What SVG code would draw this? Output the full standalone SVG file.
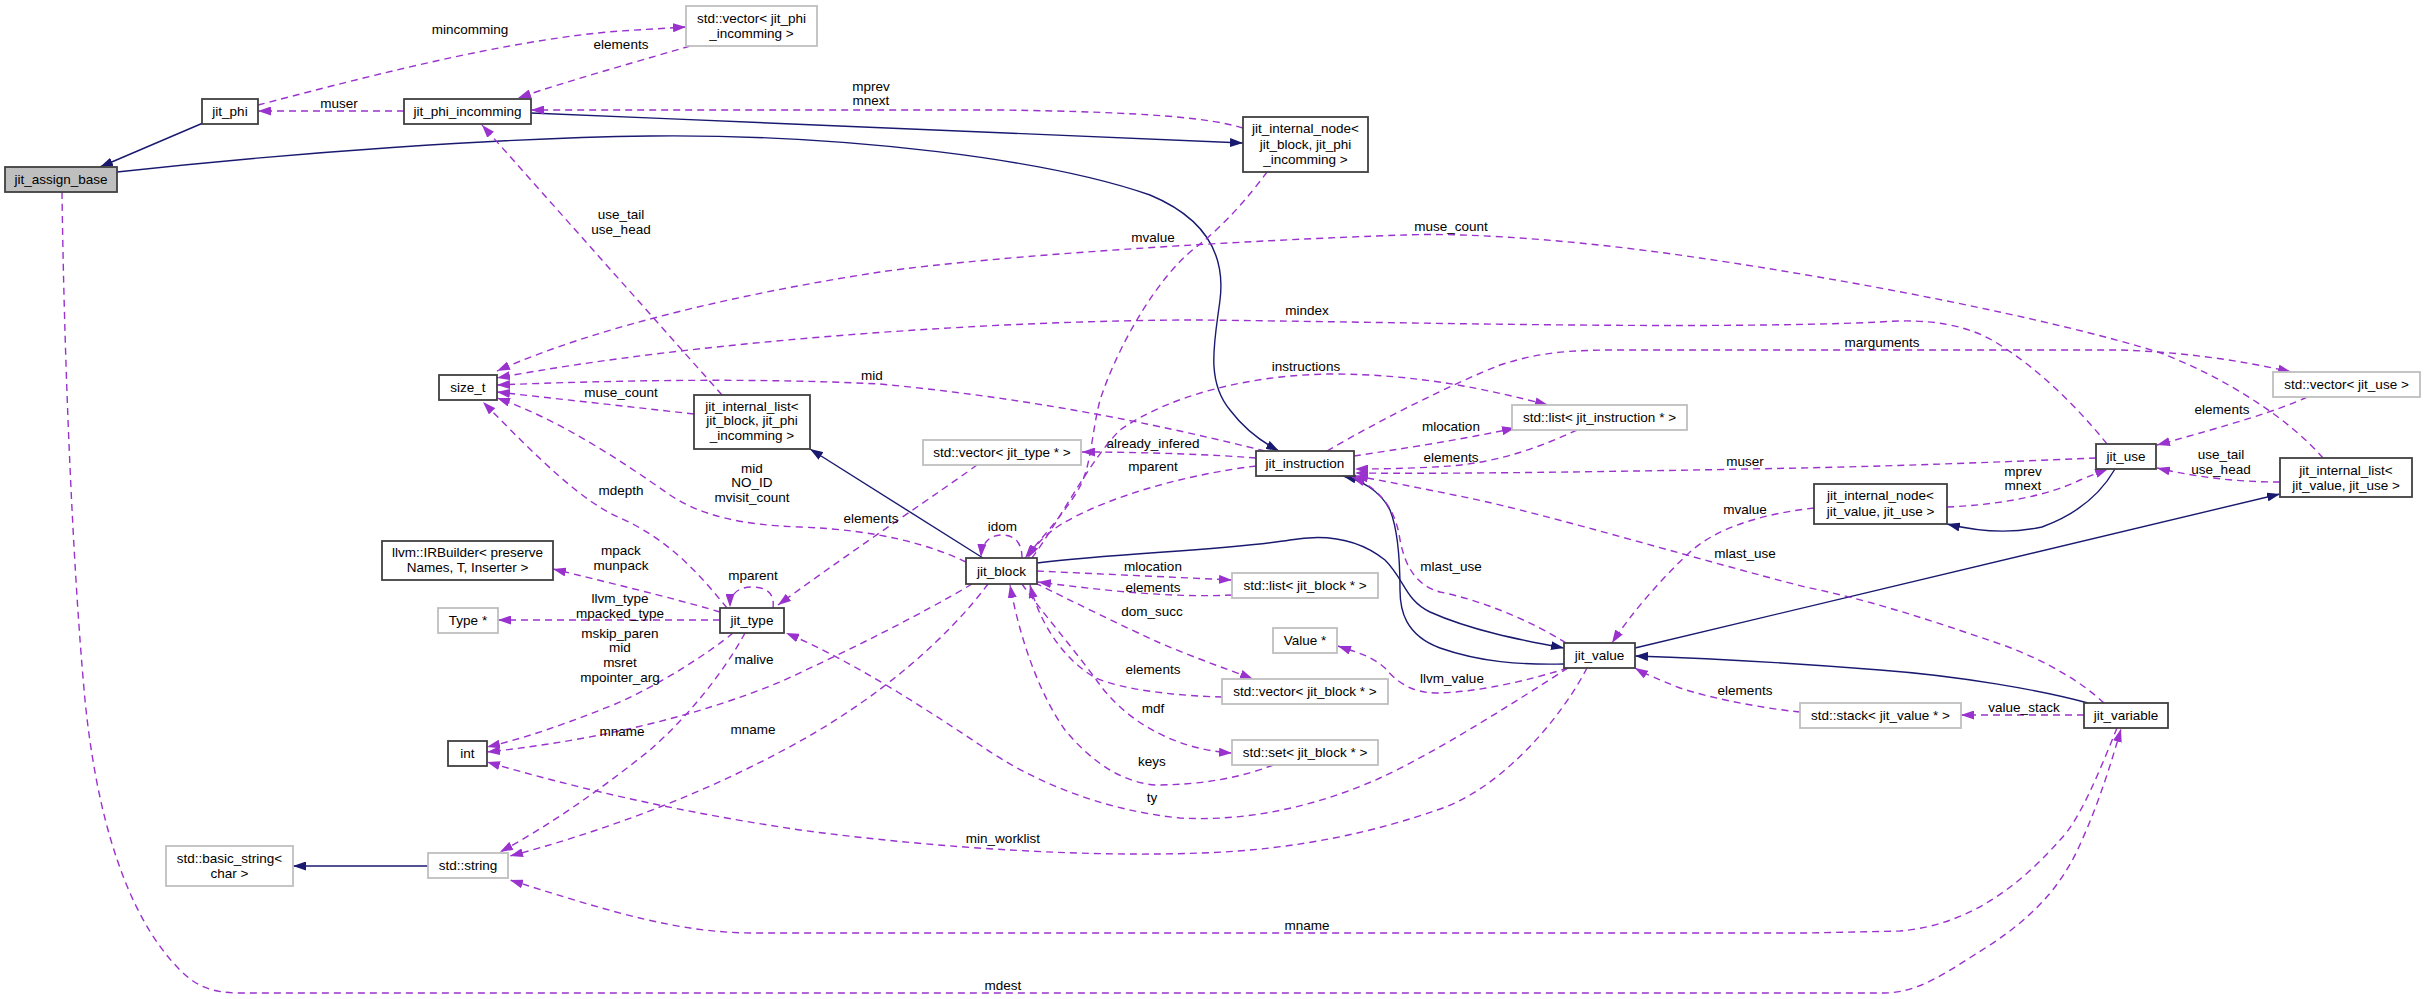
<svg xmlns="http://www.w3.org/2000/svg" width="2425" height="999" viewBox="0 0 2425 999">
<style>
text{font-family:"Liberation Sans",Arial,sans-serif;font-size:13.5px;fill:#000;text-anchor:middle}
.n{fill:#fff;stroke:#404040;stroke-width:1.8}
.g{fill:#fff;stroke:#bfbfbf;stroke-width:1.8}
.d{fill:none;stroke:#9a32cd;stroke-width:1.4;stroke-dasharray:7,5;marker-end:url(#ap)}
.s{fill:none;stroke:#191970;stroke-width:1.4;marker-end:url(#ab)}
</style>
<defs>
<marker id="ap" viewBox="0 0 13 9" refX="13" refY="4.5" markerWidth="13" markerHeight="9" markerUnits="userSpaceOnUse" orient="auto"><path d="M0,0L13,4.5L0,9z" fill="#9a32cd"/></marker>
<marker id="ab" viewBox="0 0 13 9" refX="13" refY="4.5" markerWidth="13" markerHeight="9" markerUnits="userSpaceOnUse" orient="auto"><path d="M0,0L13,4.5L0,9z" fill="#191970"/></marker>
</defs>
<rect width="2425" height="999" fill="#fff"/>
<g id="edges">
<path class="s" d="M203,123 L100,167"/>
<path class="s" d="M117,172 C300,152 500,138 650,136 C850,134 1050,160 1150,195 C1210,220 1225,260 1220,300 C1215,340 1205,380 1230,410 C1245,430 1262,442 1279,451"/>
<path class="s" d="M531,113 C800,124 1100,138 1243,143"/>
<path class="s" d="M983,558 L810,449"/>
<path class="s" d="M1037,563 C1120,553 1230,550 1290,540 C1330,533 1360,540 1385,560 C1405,580 1405,600 1430,612 C1470,630 1520,640 1564,648"/>
<path class="s" d="M1564,664 C1520,665 1480,662 1440,648 C1405,635 1400,610 1400,590 C1400,560 1398,530 1390,510 C1380,490 1360,480 1343,476"/>
<path class="s" d="M1635,648 L2280,494"/>
<path class="s" d="M2088,703 C2040,690 1960,676 1880,670 C1780,662 1700,658 1635,656"/>
<path class="s" d="M2115,469 C2100,495 2075,515 2042,527 C2010,534 1980,532 1947,524"/>
<path class="s" d="M428,866 L293,866"/>

<path class="d" d="M404,111 L258,111"/>
<path class="d" d="M258,105 C340,84 500,40 620,31 L686,27"/>
<path class="d" d="M690,46 C650,58 570,80 518,98"/>
<path class="d" d="M1243,128 C1210,118 1150,112 1000,110 L531,110"/>
<path class="d" d="M722,395 L482,125"/>
<path class="d" d="M2323,458 C2290,420 2230,380 2161,353 C2050,318 1850,280 1700,258 C1600,243 1480,232 1405,235 C1250,240 1000,255 880,272 C750,292 600,325 497,371"/>
<path class="d" d="M2107,444 C2080,410 2040,370 2000,345 C1970,325 1930,318 1880,322 C1700,330 1400,322 1200,320 C1000,320 700,340 497,378"/>
<path class="d" d="M1265,451 C1180,430 1050,400 880,384 C760,378 620,380 497,385"/>
<path class="d" d="M694,414 L497,392"/>
<path class="d" d="M966,562 C930,545 880,530 800,527 C740,525 700,515 670,495 C620,460 560,420 497,398"/>
<path class="d" d="M727,608 C700,575 670,540 620,518 C580,500 540,460 483,402"/>
<path class="d" d="M1327,451 C1380,420 1450,385 1500,365 C1540,352 1570,350 1620,350 L2121,350 C2180,352 2240,360 2291,372"/>
<path class="d" d="M1032,558 C1060,520 1090,460 1120,430 C1170,395 1250,375 1330,374 C1420,374 1490,390 1548,405"/>
<path class="d" d="M1256,458 C1220,455 1150,452 1082,452"/>
<path class="d" d="M977,465 C940,492 860,545 778,605"/>
<path class="d" d="M773,608 C775,592 765,587 752,587 C738,587 730,594 730,607"/>
<path class="d" d="M720,612 C690,603 640,590 553,569"/>
<path class="d" d="M720,620 L498,620"/>
<path class="d" d="M733,633 C710,652 660,685 613,705 C570,722 530,737 487,747"/>
<path class="d" d="M972,584 C920,615 850,650 780,682 C700,715 600,740 487,752"/>
<path class="d" d="M745,633 C725,670 690,715 650,750 C600,790 550,825 500,852"/>
<path class="d" d="M988,584 C950,635 880,700 780,752 C690,800 590,835 510,856"/>
<path class="d" d="M1587,668 C1560,720 1500,790 1437,810 C1380,830 1300,850 1200,853 C1100,857 950,850 800,830 C700,815 600,795 487,762"/>
<path class="d" d="M1568,668 C1510,705 1440,750 1380,778 C1320,805 1250,822 1180,818 C1100,810 1030,780 980,745 C920,705 850,660 786,633"/>
<path class="d" d="M1568,668 C1530,680 1480,692 1437,693 C1410,693 1395,680 1385,668 C1370,655 1355,652 1338,646"/>
<path class="d" d="M1566,643 C1530,620 1480,600 1440,592 C1415,585 1405,565 1400,540 C1396,510 1380,488 1352,477"/>
<path class="d" d="M2096,458 C2000,462 1900,466 1800,468 C1600,472 1450,474 1355,473"/>
<path class="d" d="M1577,430 C1540,447 1500,462 1450,466 C1420,468 1390,469 1355,469"/>
<path class="d" d="M1354,456 C1400,449 1460,440 1515,428"/>
<path class="d" d="M2104,703 C2085,685 2050,662 2003,645 C1930,620 1870,600 1805,587 C1700,560 1550,515 1469,498 C1420,488 1380,480 1355,476"/>
<path class="d" d="M1814,508 C1770,513 1720,525 1690,552 C1660,580 1630,615 1612,643"/>
<path class="d" d="M1947,507 C2000,505 2050,495 2080,480 C2090,476 2100,472 2108,469"/>
<path class="d" d="M2307,397 C2280,410 2230,425 2157,445"/>
<path class="d" d="M2280,482 C2240,482 2200,478 2157,468"/>
<path class="d" d="M1800,712 C1760,708 1710,698 1680,688 C1660,680 1645,674 1635,668"/>
<path class="d" d="M2084,715 L1961,715"/>
<path class="d" d="M2117,728 C2100,770 2080,820 2060,840 C2020,885 1970,925 1900,931 L1805,933 L750,933 C680,932 620,915 510,880"/>
<path class="d" d="M62,192 C64,350 72,560 85,700 C100,850 140,930 180,970 C195,985 210,993 240,993 L1884,993 C1920,993 1950,970 1990,945 C2040,912 2065,880 2082,840 C2100,800 2112,760 2121,729"/>
<path class="d" d="M1037,571 C1100,574 1170,577 1232,580"/>
<path class="d" d="M1232,595 C1170,598 1100,590 1038,582"/>
<path class="d" d="M1035,583 C1070,600 1120,625 1160,643 C1200,660 1230,670 1253,679"/>
<path class="d" d="M1222,697 C1180,696 1120,690 1094,677 C1065,660 1040,625 1030,585"/>
<path class="d" d="M1022,584 C1040,610 1075,650 1100,685 C1130,725 1180,750 1232,753"/>
<path class="d" d="M1273,765 C1240,778 1200,785 1155,785 C1120,782 1090,760 1065,730 C1040,695 1020,640 1010,585"/>
<path class="d" d="M1267,172 C1250,195 1225,225 1195,248 C1160,275 1120,340 1100,400 C1090,440 1092,470 1075,495 C1060,518 1040,540 1025,558"/>
<path class="d" d="M1256,466 C1190,474 1110,495 1060,525 C1045,535 1035,545 1028,558"/>
<path class="d" d="M1022,558 C1022,540 1012,535 1002,535 C990,535 982,542 981,557"/>

<text x="339" y="107.5">muser</text>
<text x="470" y="33.5">mincomming</text>
<text x="621" y="48.5">elements</text>
<text x="871" y="90.5">mprev</text><text x="871" y="104.5">mnext</text>
<text x="621" y="218.5">use_tail</text><text x="621" y="233.5">use_head</text>
<text x="1153" y="241.5">mvalue</text>
<text x="1451" y="230.5">muse_count</text>
<text x="1307" y="314.5">mindex</text>
<text x="1882" y="346.5">marguments</text>
<text x="872" y="379.5">mid</text>
<text x="1306" y="370.5">instructions</text>
<text x="621" y="396.5">muse_count</text>
<text x="1451" y="430.5">mlocation</text>
<text x="1153" y="447.5">already_infered</text>
<text x="2222" y="413.5">elements</text>
<text x="1451" y="461.5">elements</text>
<text x="1745" y="465.5">muser</text>
<text x="2221" y="458.5">use_tail</text><text x="2221" y="473.5">use_head</text>
<text x="1153" y="470.5">mparent</text>
<text x="752" y="472.5">mid</text><text x="752" y="486.5">NO_ID</text><text x="752" y="501.5">mvisit_count</text>
<text x="2023" y="475.5">mprev</text><text x="2023" y="489.5">mnext</text>
<text x="621" y="494.5">mdepth</text>
<text x="1745" y="513.5">mvalue</text>
<text x="871" y="522.5">elements</text>
<text x="1002.5" y="530.5">idom</text>
<text x="621" y="554.5">mpack</text><text x="621" y="569.5">munpack</text>
<text x="1745" y="557.5">mlast_use</text>
<text x="1153" y="570.5">mlocation</text>
<text x="1451" y="570.5">mlast_use</text>
<text x="753" y="579.5">mparent</text>
<text x="1153" y="591.5">elements</text>
<text x="620" y="602.5">llvm_type</text><text x="620" y="617.5">mpacked_type</text>
<text x="1152" y="615.5">dom_succ</text>
<text x="620" y="637.5">mskip_paren</text><text x="620" y="651.5">mid</text><text x="620" y="666.5">msret</text><text x="620" y="681.5">mpointer_arg</text>
<text x="754" y="663.5">malive</text>
<text x="1153" y="673.5">elements</text>
<text x="1452" y="682.5">llvm_value</text>
<text x="1745" y="694.5">elements</text>
<text x="2024" y="711.5">value_stack</text>
<text x="1153" y="712.5">mdf</text>
<text x="622" y="735.5">mname</text>
<text x="753" y="733.5">mname</text>
<text x="1152" y="765.5">keys</text>
<text x="1152" y="801.5">ty</text>
<text x="1003" y="842.5">min_worklist</text>
<text x="1307" y="929.5">mname</text>
<text x="1003" y="989.5">mdest</text>
</g>

<g id="jit_assign_base"><rect x="5" y="167" width="112" height="25" fill="#bfbfbf" stroke="#404040" stroke-width="1.8"/><text x="61" y="184">jit_assign_base</text></g>
<g id="jit_phi"><rect class="n" x="202" y="99" width="56" height="25"/><text x="230" y="116">jit_phi</text></g>
<g id="jit_phi_incomming"><rect class="n" x="404" y="99" width="127" height="25"/><text x="467.5" y="116">jit_phi_incomming</text></g>
<g id="vec_phi"><rect class="g" x="686" y="6" width="131" height="40"/><text x="751.5" y="22.5">std::vector&lt; jit_phi</text><text x="751.5" y="37.5">_incomming &gt;</text></g>
<g id="node_block_phi"><rect class="n" x="1243" y="117" width="125" height="55"/><text x="1305.5" y="132.5">jit_internal_node&lt;</text><text x="1305.5" y="148.5">jit_block, jit_phi</text><text x="1305.5" y="163.5">_incomming &gt;</text></g>
<g id="size_t"><rect class="n" x="439" y="375" width="58" height="25"/><text x="468" y="392">size_t</text></g>
<g id="list_block_phi"><rect class="n" x="694" y="395" width="116" height="54"/><text x="752" y="411">jit_internal_list&lt;</text><text x="752" y="425">jit_block, jit_phi</text><text x="752" y="440">_incomming &gt;</text></g>
<g id="vec_type"><rect class="g" x="923" y="440" width="158" height="25"/><text x="1002" y="457">std::vector&lt; jit_type * &gt;</text></g>
<g id="jit_instruction"><rect class="n" x="1256" y="451" width="98" height="25"/><text x="1305" y="468">jit_instruction</text></g>
<g id="list_instr"><rect class="g" x="1512" y="405" width="175" height="25"/><text x="1599.5" y="422">std::list&lt; jit_instruction * &gt;</text></g>
<g id="vec_use"><rect class="g" x="2273" y="372" width="147" height="25"/><text x="2346.5" y="389">std::vector&lt; jit_use &gt;</text></g>
<g id="jit_use"><rect class="n" x="2096" y="444" width="60" height="25"/><text x="2126" y="461">jit_use</text></g>
<g id="list_value_use"><rect class="n" x="2280" y="458" width="132" height="39"/><text x="2346" y="474.5">jit_internal_list&lt;</text><text x="2346" y="489.5">jit_value, jit_use &gt;</text></g>
<g id="node_value_use"><rect class="n" x="1814" y="484" width="133" height="40"/><text x="1880.5" y="499.5">jit_internal_node&lt;</text><text x="1880.5" y="515.5">jit_value, jit_use &gt;</text></g>
<g id="irbuilder"><rect class="n" x="382" y="541" width="171" height="39"/><text x="467.5" y="556.5">llvm::IRBuilder&lt; preserve</text><text x="467.5" y="571.5">Names, T, Inserter &gt;</text></g>
<g id="type_ptr"><rect class="g" x="438" y="608" width="60" height="25"/><text x="468" y="625">Type *</text></g>
<g id="jit_type"><rect class="n" x="720" y="608" width="64" height="25"/><text x="752" y="625">jit_type</text></g>
<g id="jit_block"><rect class="n" x="966" y="558" width="71" height="26"/><text x="1001.5" y="575.5">jit_block</text></g>
<g id="list_block"><rect class="g" x="1232" y="573" width="146" height="25"/><text x="1305" y="590">std::list&lt; jit_block * &gt;</text></g>
<g id="value_ptr"><rect class="g" x="1273" y="628" width="64" height="25"/><text x="1305" y="645">Value *</text></g>
<g id="jit_value"><rect class="n" x="1564" y="643" width="71" height="25"/><text x="1599.5" y="660">jit_value</text></g>
<g id="vec_block"><rect class="g" x="1222" y="679" width="166" height="25"/><text x="1305" y="696">std::vector&lt; jit_block * &gt;</text></g>
<g id="stack_value"><rect class="g" x="1800" y="703" width="161" height="25"/><text x="1880.5" y="720">std::stack&lt; jit_value * &gt;</text></g>
<g id="jit_variable"><rect class="n" x="2084" y="703" width="84" height="25"/><text x="2126" y="720">jit_variable</text></g>
<g id="int"><rect class="n" x="448" y="741" width="39" height="25"/><text x="467.5" y="758">int</text></g>
<g id="set_block"><rect class="g" x="1232" y="740" width="146" height="25"/><text x="1305" y="757">std::set&lt; jit_block * &gt;</text></g>
<g id="basic_string"><rect class="g" x="166" y="846" width="127" height="40"/><text x="229.5" y="862.5">std::basic_string&lt;</text><text x="229.5" y="877.5">char &gt;</text></g>
<g id="std_string"><rect class="g" x="428" y="853" width="80" height="25"/><text x="468" y="870">std::string</text></g>
</svg>
